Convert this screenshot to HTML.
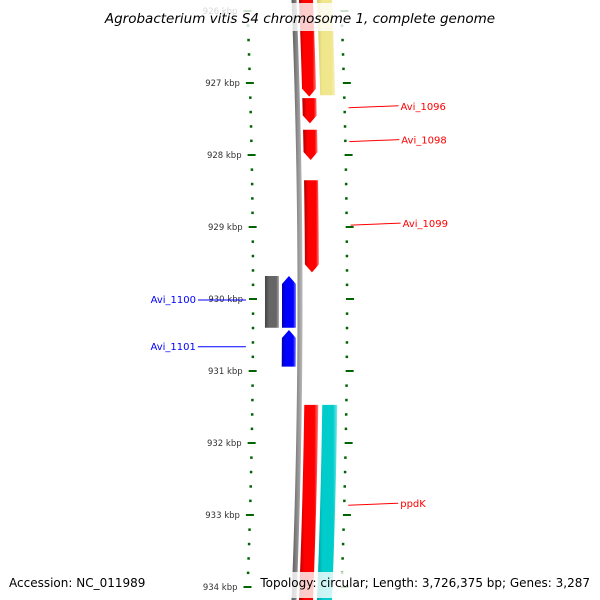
<!DOCTYPE html>
<html><head><meta charset="utf-8"><style>
body{margin:0;background:#fff}
svg{display:block;font-family:"DejaVu Sans","Liberation Sans",sans-serif}
</style></head><body>
<svg id="map" width="600" height="600" viewBox="0 0 600 600" xmlns="http://www.w3.org/2000/svg">
<defs>
<linearGradient id="gRed" x1="0" x2="1"><stop offset="0" stop-color="#b00000"/><stop offset="0.3" stop-color="#ff0000"/><stop offset="0.8" stop-color="#ff0000"/><stop offset="1" stop-color="#ff8080"/></linearGradient>
<linearGradient id="gBlue" x1="0" x2="1"><stop offset="0" stop-color="#0000b0"/><stop offset="0.3" stop-color="#0000ff"/><stop offset="0.8" stop-color="#0000ff"/><stop offset="1" stop-color="#8080ff"/></linearGradient>
<linearGradient id="gGray" x1="0" x2="1"><stop offset="0" stop-color="#444"/><stop offset="0.3" stop-color="#666"/><stop offset="0.8" stop-color="#666"/><stop offset="1" stop-color="#aaa"/></linearGradient>
<linearGradient id="gYel" x1="0" x2="1"><stop offset="0" stop-color="#cfc66a"/><stop offset="0.3" stop-color="#f0e68c"/><stop offset="0.8" stop-color="#f0e68c"/><stop offset="1" stop-color="#f8f2c0"/></linearGradient>
<linearGradient id="gCyan" x1="0" x2="1"><stop offset="0" stop-color="#009898"/><stop offset="0.3" stop-color="#00cccc"/><stop offset="0.8" stop-color="#00cccc"/><stop offset="1" stop-color="#80e6e6"/></linearGradient>
<linearGradient id="gBack" x1="0" x2="1"><stop offset="0" stop-color="#555"/><stop offset="0.5" stop-color="#888"/><stop offset="1" stop-color="#bbb"/></linearGradient>
</defs>
<g id="layer"></g>
</svg>
<script>
const tickKbp = [926,927,928,929,930,931,932,933,934];
const featNames = ["f1","yellow","Avi_1096","Avi_1098","Avi_1099","grayRev","Avi_1100","Avi_1101","ppdK","cyan"];
const featStart = [925.7,925.7,927.21,927.65,928.35,929.68,929.68,930.43,931.47,931.47];
const featEnd   = [927.19,927.17,927.56,928.07,929.63,930.40,930.40,930.94,934.4,934.4];
const featStrand= [1,0,1,1,1,0,-1,-1,1,0];
const featTrack = [1,2,1,1,1,-2,-1,-1,1,2];
const featColor = ["gRed","gYel","gRed","gRed","gRed","gGray","gBlue","gBlue","gRed","gCyan"];
const labelText = ["Avi_1096","Avi_1098","Avi_1099","ppdK","Avi_1100","Avi_1101"];
const labelKbp  = [927.33,927.8,928.96,932.85,930.0,930.65];
const labelSide = [1,1,1,1,-1,-1];

const NS="http://www.w3.org/2000/svg";
const L=document.getElementById('layer');
const yOf=k=>11+(k-926)*72;
const R=7500;
const xb=y=>300-(R-Math.sqrt(R*R-(y-300)*(y-300)));
function el(t,a,p){const e=document.createElementNS(NS,t);for(const k in a)e.setAttribute(k,a[k]);(p||L).appendChild(e);return e;}

for(let k=925.8;k<=934.25;k+=0.2){
  const kk=Math.round(k*10)/10,y=yOf(kk),maj=Math.abs(kk-Math.round(kk))<0.01,b=xb(y);
  const t1=el('rect',{x:b-47-(maj?4:1.2),y:y-1,width:maj?8:2.5,height:maj?2:2.5,fill:'#006400'});
  
  
  const t2=el('rect',{x:b+47-(maj?1:1.2),y:y-1,width:maj?8:2.5,height:maj?2:2.5,fill:'#006400'});
  
  
}
tickKbp.forEach(k=>{
  const y=yOf(k);
  const t=el('text',{x:xb(y)-57,y:y+3,'font-size':8.5,'text-anchor':'end',fill:'#333'});
  t.textContent=k+' kbp';
  
  
});
(function(){let d='';for(let y=-5;y<=605;y+=10)d+=(y<0?'M':'L')+(xb(y)-2.5)+','+y;for(let y=605;y>=-5;y-=10)d+='L'+(xb(y)+2.5)+','+y;
const p=el('path',{d:d+'Z',fill:'url(#gBack)'});

})();
const trackOff={1:[5,19],2:[23,38],'-1':[-18,-4],'-2':[-35,-21]};
featNames.forEach((n,i)=>{
  const y0=yOf(featStart[i]),y1=yOf(featEnd[i]),o=trackOff[featTrack[i]],s=featStrand[i],A=8;
  const ya=s===-1?y0+A:y0,yz=s===1?y1-A:y1;
  let pts=[];
  const N=12;
  for(let j=0;j<=N;j++){const y=ya+(yz-ya)*j/N;pts.push([xb(y)+o[0],y]);}
  if(s===1){const b=xb(y1);pts.push([b+(o[0]+o[1])/2,y1]);}
  for(let j=N;j>=0;j--){const y=ya+(yz-ya)*j/N;pts.push([xb(y)+o[1],y]);}
  if(s===-1){const b=xb(y0);pts.push([b+(o[0]+o[1])/2,y0]);}
  const p=el('polygon',{points:pts.map(q=>q.join(',')).join(' '),fill:'url(#'+featColor[i]+')'});
  
  
});
labelText.forEach((t,i)=>{
  const y=yOf(labelKbp[i]),b=xb(y),col=labelSide[i]>0?'#ff0000':'#0000ff';
  if(labelSide[i]>0){
    const l=el('line',{x1:b+51,y1:y+1,x2:b+101,y2:y-1,stroke:col,'stroke-width':1});
    
    
    const tx=el('text',{x:b+103,y:y+3,'font-size':10,fill:col});tx.textContent=t;
    
    
  }else{
    const l=el('line',{x1:b-54,y1:y+1,x2:b-102,y2:y+1,stroke:col,'stroke-width':1});
    
    
    const tx=el('text',{x:b-104,y:y+4,'font-size':10,fill:col,'text-anchor':'end'});tx.textContent=t;
    
    
  }
});
const o1=el('rect',{x:100,y:3,width:400,height:28,fill:'#fff','fill-opacity':0.8});


const ti=el('text',{x:300,y:23,'font-size':13.5,'font-style':'italic','text-anchor':'middle',fill:'#000'});
ti.textContent='Agrobacterium vitis S4 chromosome 1, complete genome';


const o2=el('rect',{x:258,y:572,width:334,height:26,fill:'#fff','fill-opacity':0.8});


const a=el('text',{x:9,y:587,'font-size':12,fill:'#000'});a.textContent='Accession: NC_011989';


const tp=el('text',{x:590,y:587,'font-size':12,fill:'#000','text-anchor':'end'});tp.textContent='Topology: circular; Length: 3,726,375 bp; Genes: 3,287';


</script>
</body></html>
